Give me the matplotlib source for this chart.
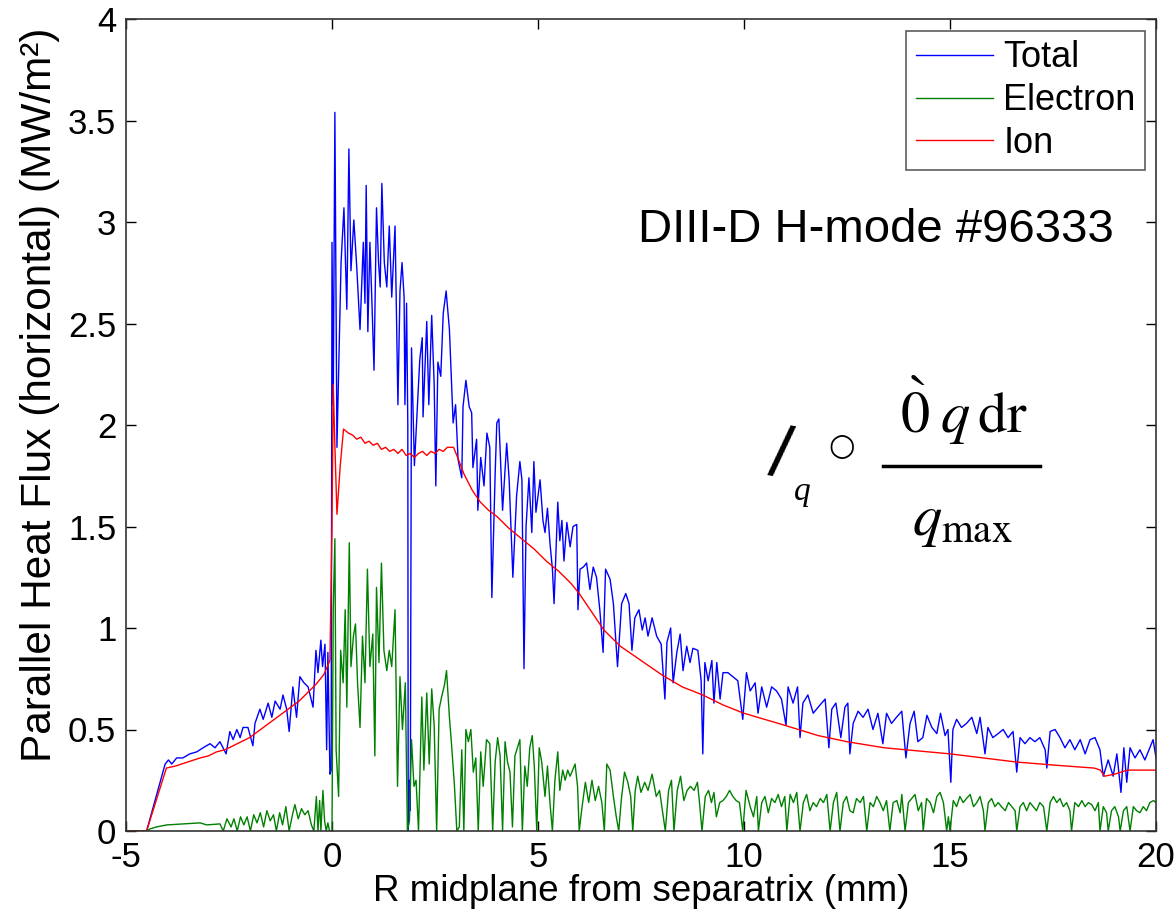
import matplotlib
matplotlib.use("Agg")
import matplotlib.pyplot as plt
from matplotlib.lines import Line2D

# ---------------- data ----------------
total_x = [
    -5.00, -4.50, -4.05, -3.97, -3.89, -3.77, -3.62, -3.45, -3.28, -3.13,
    -2.96, -2.84, -2.72, -2.57, -2.48, -2.40, -2.31, -2.23, -2.16, -2.04,
    -1.92, -1.87, -1.75, -1.67, -1.55, -1.46, -1.38, -1.26, -1.19, -1.10,
    -1.04, -0.95, -0.86, -0.78, -0.68, -0.58, -0.46, -0.39, -0.34, -0.27,
    -0.23, -0.17, -0.13, -0.10, -0.05, -0.02,
    0.00, 0.03, 0.07, 0.12, 0.22, 0.29, 0.36, 0.41, 0.46, 0.53,
    0.60, 0.68, 0.76, 0.80, 0.83, 0.87, 0.92, 0.97, 1.02, 1.08,
    1.13, 1.17, 1.21, 1.27, 1.33, 1.39, 1.45, 1.53, 1.60, 1.65,
    1.70, 1.75, 1.77, 1.81, 1.84, 1.85, 1.88, 1.90,
    1.93, 2.00, 2.13, 2.19, 2.21, 2.30, 2.35, 2.42, 2.48, 2.52,
    2.57, 2.64, 2.70, 2.77, 2.85, 2.90, 2.94, 3.00, 3.06, 3.15,
    3.18, 3.25, 3.33, 3.39, 3.42, 3.51, 3.54, 3.61, 3.69, 3.76,
    3.83, 3.88, 3.96, 4.00, 4.05, 4.14, 4.24, 4.30, 4.39, 4.48,
    4.56, 4.61, 4.66, 4.71, 4.78, 4.85, 4.90, 4.95, 5.05, 5.12,
    5.17, 5.23, 5.29, 5.35, 5.39, 5.48, 5.53, 5.58, 5.63, 5.70,
    5.78, 5.85, 5.94, 5.97, 6.02, 6.10, 6.18, 6.26, 6.34, 6.42,
    6.50, 6.58, 6.64, 6.75, 6.83, 6.93, 7.03, 7.13, 7.21, 7.28,
    7.35, 7.45, 7.53, 7.60, 7.67, 7.77, 7.88, 7.99, 8.08, 8.13,
    8.22, 8.28, 8.37, 8.45, 8.52, 8.61, 8.69, 8.76, 8.88, 8.96,
    9.00, 9.05, 9.13, 9.22, 9.27, 9.34, 9.42, 9.49, 9.61, 9.73,
    9.85, 9.97, 10.06,
    10.15, 10.27, 10.34, 10.43, 10.55, 10.67, 10.79, 10.91, 11.02, 11.07,
    11.19, 11.30, 11.36, 11.43, 11.55, 11.68, 11.80, 11.97, 12.06, 12.13,
    12.23, 12.35, 12.45, 12.52, 12.57, 12.65, 12.77, 12.89, 13.01, 13.13,
    13.25, 13.37, 13.46, 13.58, 13.70, 13.83, 13.93, 14.03, 14.13, 14.22,
    14.34, 14.44, 14.56, 14.68, 14.77, 14.88, 14.95, 15.02, 15.07, 15.16,
    15.28, 15.40, 15.53, 15.65, 15.73, 15.85, 15.92, 16.04, 16.17, 16.29,
    16.41, 16.53, 16.62, 16.70, 16.82, 16.94, 17.06, 17.18, 17.31, 17.35,
    17.43, 17.55, 17.67, 17.79, 17.91, 18.03, 18.16, 18.28, 18.40, 18.52,
    18.64, 18.72, 18.84, 18.96, 19.05, 19.15, 19.22, 19.29, 19.37, 19.49,
    19.61, 19.73, 19.85, 19.93, 20.00,
]
total_y = [
    0.00, 0.00, 0.33, 0.35, 0.33, 0.36, 0.36, 0.38, 0.39, 0.41,
    0.43, 0.41, 0.44, 0.38, 0.49, 0.45, 0.50, 0.46, 0.51, 0.51,
    0.42, 0.53, 0.60, 0.55, 0.63, 0.56, 0.64, 0.60, 0.67, 0.60,
    0.49, 0.71, 0.56, 0.76, 0.73, 0.71, 0.61, 0.89, 0.78, 0.94,
    0.81, 0.92, 0.40, 0.88, 0.28, 0.30,
    2.90, 2.10, 3.54, 1.89, 2.80, 3.07, 2.57, 3.36, 2.76, 3.01,
    2.78, 2.47, 2.90, 2.60, 3.18, 2.46, 2.90, 2.60, 2.27, 3.07,
    2.80, 2.68, 3.19, 2.80, 2.68, 2.98, 2.63, 2.98, 2.10, 2.66,
    2.80, 2.63, 2.10, 2.60, 2.00, 0.00, 0.25, 0.10,
    2.38, 1.80, 2.32, 2.43, 2.04, 2.51, 2.10, 2.54, 2.20, 1.70,
    2.31, 2.24, 2.55, 2.66, 2.47, 2.22, 2.01, 2.10, 1.83, 1.74,
    2.09, 2.22, 2.09, 2.06, 1.79, 1.93, 1.58, 1.84, 1.70, 1.96,
    1.89, 1.15, 1.76, 2.01, 2.03, 1.58, 1.91, 1.73, 1.25, 1.65,
    1.82, 1.73, 0.80, 1.50, 1.74, 1.47, 1.82, 1.57, 1.73, 1.53,
    1.47, 1.59, 1.42, 1.29, 1.12, 1.62, 1.43, 1.53, 1.33, 1.52,
    1.40, 1.50, 1.51, 1.09, 1.29, 1.30, 1.32, 1.19, 1.30, 1.25,
    1.09, 0.88, 1.29, 1.24, 1.12, 0.81, 1.12, 1.17, 1.12, 0.89,
    1.05, 1.09, 0.99, 1.05, 0.96, 1.05, 0.96, 0.92, 0.65, 0.93,
    1.00, 0.73, 0.88, 0.97, 0.79, 0.91, 0.83, 0.90, 0.89, 0.74,
    0.38, 0.83, 0.74, 0.84, 0.63, 0.83, 0.65, 0.78, 0.78, 0.76,
    0.74, 0.55, 0.78,
    0.69, 0.73, 0.58, 0.71, 0.61, 0.71, 0.69, 0.65, 0.52, 0.71,
    0.63, 0.71, 0.46, 0.63, 0.67, 0.58, 0.61, 0.65, 0.41, 0.60,
    0.63, 0.46, 0.61, 0.63, 0.38, 0.53, 0.59, 0.56, 0.60, 0.50,
    0.58, 0.43, 0.58, 0.53, 0.56, 0.59, 0.36, 0.53, 0.59, 0.44,
    0.46, 0.57, 0.51, 0.48, 0.58, 0.47, 0.50, 0.24, 0.50, 0.55,
    0.51, 0.53, 0.56, 0.48, 0.56, 0.38, 0.51, 0.46, 0.48, 0.50,
    0.46, 0.49, 0.29, 0.46, 0.43, 0.46, 0.44, 0.46, 0.40, 0.31,
    0.49, 0.50, 0.46, 0.41, 0.45, 0.40, 0.45, 0.38, 0.45, 0.46,
    0.40, 0.27, 0.35, 0.27, 0.38, 0.19, 0.41, 0.24, 0.41, 0.36,
    0.40, 0.35, 0.41, 0.45, 0.36,
]

electron_x = [
    -5.00, -4.50, -4.42, -4.26, -4.01, -3.62, -3.20, -3.04, -2.72, -2.64,
    -2.55, -2.45, -2.38, -2.30, -2.22, -2.14, -2.06, -1.98, -1.90, -1.82,
    -1.74, -1.66, -1.58, -1.50, -1.42, -1.35, -1.27, -1.20, -1.12, -1.04,
    -0.96, -0.90, -0.82, -0.74, -0.66, -0.58, -0.50, -0.44, -0.38, -0.34,
    -0.30, -0.27, -0.22, -0.18, -0.14, -0.10, -0.06, -0.02,
    0.00, 0.03, 0.07, 0.10, 0.16, 0.21, 0.27, 0.32, 0.36, 0.42,
    0.46, 0.52, 0.57, 0.62, 0.68, 0.74, 0.80, 0.86, 0.92, 0.99,
    1.04, 1.08, 1.14, 1.20, 1.26, 1.33, 1.39, 1.45, 1.53, 1.59,
    1.65, 1.71, 1.78, 1.83,
    1.88, 1.93, 1.99, 2.04, 2.10, 2.18, 2.23, 2.30, 2.36, 2.42,
    2.48, 2.54, 2.60, 2.66, 2.73, 2.78, 2.85, 2.90, 2.97, 3.03,
    3.09, 3.15, 3.20, 3.25, 3.31, 3.37, 3.43, 3.49, 3.55, 3.61,
    3.67, 3.75, 3.83, 3.90, 3.96, 4.02, 4.08, 4.14, 4.20, 4.26,
    4.32, 4.38, 4.44, 4.50, 4.56, 4.62, 4.68, 4.74, 4.80, 4.86,
    4.91, 4.97, 5.03, 5.09,
    5.17, 5.23, 5.29, 5.35, 5.41, 5.48, 5.53, 5.60, 5.66, 5.72,
    5.78, 5.84, 5.90, 5.96, 6.00, 6.07, 6.15, 6.23, 6.31, 6.39,
    6.47, 6.55, 6.61, 6.67, 6.75, 6.83, 6.90, 6.96, 7.02, 7.10,
    7.18, 7.25, 7.30, 7.36, 7.42, 7.50, 7.59, 7.67, 7.77, 7.87,
    7.95, 8.04, 8.09, 8.17, 8.24, 8.30, 8.38, 8.46, 8.54, 8.62,
    8.70, 8.79, 8.87, 8.92, 8.98, 9.06, 9.14, 9.21, 9.27, 9.33,
    9.41, 9.49, 9.57, 9.65, 9.73, 9.81, 9.89, 9.97, 10.05,
    10.15, 10.23, 10.31, 10.35, 10.43, 10.51, 10.59, 10.67, 10.75, 10.83,
    10.91, 10.99, 11.04, 11.12, 11.20, 11.28, 11.36, 11.44, 11.52, 11.60,
    11.68, 11.76, 11.85, 11.93, 12.01, 12.09, 12.17, 12.25, 12.33, 12.41,
    12.49, 12.57, 12.65, 12.73, 12.82, 12.90, 12.98, 13.06, 13.14, 13.22,
    13.30, 13.38, 13.46, 13.54, 13.62, 13.71, 13.79, 13.83, 13.91, 13.99,
    14.07, 14.15, 14.23, 14.31, 14.35, 14.43, 14.52, 14.60, 14.68, 14.76,
    14.84, 14.92, 14.96, 15.00, 15.08, 15.16, 15.24, 15.32, 15.40, 15.49,
    15.57, 15.65, 15.73, 15.81, 15.85, 15.93, 16.01, 16.09, 16.17, 16.25,
    16.34, 16.42, 16.50, 16.58, 16.62, 16.70, 16.78, 16.86, 16.94, 17.02,
    17.10, 17.18, 17.27, 17.35, 17.43, 17.51, 17.59, 17.67, 17.75, 17.83,
    17.91, 17.95, 18.03, 18.12, 18.20, 18.28, 18.36, 18.44, 18.52, 18.60,
    18.64, 18.72, 18.80, 18.84, 18.92, 19.00, 19.09, 19.13, 19.21, 19.29,
    19.37, 19.45, 19.53, 19.61, 19.69, 19.77, 19.85, 19.94, 20.00,
]
electron_y = [
    0.00, 0.00, 0.01, 0.02, 0.03, 0.035, 0.04, 0.03, 0.035, 0.00,
    0.06, 0.02, 0.06, 0.00, 0.07, 0.03, 0.07, 0.00, 0.08, 0.04,
    0.09, 0.02, 0.10, 0.05, 0.08, 0.00, 0.09, 0.03, 0.12, 0.00,
    0.08, 0.13, 0.06, 0.11, 0.08, 0.10, 0.03, 0.00, 0.17, 0.00,
    0.15, 0.00, 0.20, 0.05, 0.00, 0.04, 0.00, 0.00,
    0.00, 1.09, 1.44, 0.40, 0.17, 0.89, 0.73, 1.09, 0.61, 1.42,
    0.81, 0.96, 1.02, 0.73, 0.51, 0.96, 0.73, 1.29, 0.81, 0.97,
    0.37, 1.20, 0.83, 1.32, 0.89, 0.79, 0.89, 0.81, 1.09, 0.22,
    0.76, 0.50, 0.73, 0.00,
    0.05, 0.45, 0.22, 0.25, 0.00, 0.66, 0.30, 0.68, 0.33, 0.70,
    0.52, 0.00, 0.60, 0.66, 0.72, 0.79, 0.56, 0.43, 0.23, 0.00,
    0.02, 0.40, 0.00, 0.50, 0.44, 0.50, 0.29, 0.36, 0.00, 0.39,
    0.22, 0.45, 0.43, 0.00, 0.34, 0.46, 0.37, 0.00, 0.44, 0.34,
    0.29, 0.02, 0.37, 0.41, 0.45, 0.00, 0.32, 0.22, 0.41, 0.47,
    0.32, 0.00, 0.41, 0.34,
    0.17, 0.32, 0.14, 0.00, 0.25, 0.39, 0.20, 0.30, 0.25, 0.30,
    0.27, 0.30, 0.33, 0.22, 0.00, 0.12, 0.24, 0.14, 0.25, 0.15,
    0.22, 0.14, 0.00, 0.33, 0.30, 0.17, 0.07, 0.00, 0.15, 0.29,
    0.24, 0.17, 0.00, 0.20, 0.27, 0.19, 0.24, 0.20, 0.28, 0.17,
    0.20, 0.07, 0.00, 0.20, 0.25, 0.00, 0.20, 0.27, 0.15, 0.20,
    0.22, 0.20, 0.24, 0.14, 0.00, 0.17, 0.20, 0.14, 0.19, 0.07,
    0.14, 0.15, 0.17, 0.20, 0.17, 0.15, 0.14, 0.00, 0.20,
    0.12, 0.07, 0.17, 0.00, 0.14, 0.17, 0.09, 0.16, 0.14, 0.18,
    0.12, 0.17, 0.00, 0.18, 0.14, 0.19, 0.00, 0.14, 0.18, 0.10,
    0.14, 0.12, 0.16, 0.14, 0.18, 0.00, 0.14, 0.19, 0.00, 0.14,
    0.17, 0.10, 0.09, 0.16, 0.14, 0.17, 0.00, 0.14, 0.12, 0.17,
    0.14, 0.10, 0.15, 0.00, 0.14, 0.15, 0.09, 0.18, 0.00, 0.14,
    0.16, 0.18, 0.10, 0.14, 0.00, 0.16, 0.14, 0.09, 0.17, 0.19,
    0.14, 0.00, 0.07, 0.00, 0.15, 0.12, 0.17, 0.14, 0.16, 0.18,
    0.12, 0.14, 0.17, 0.10, 0.00, 0.14, 0.16, 0.12, 0.14, 0.12,
    0.10, 0.14, 0.12, 0.10, 0.00, 0.12, 0.14, 0.10, 0.14, 0.12,
    0.10, 0.14, 0.12, 0.00, 0.14, 0.17, 0.14, 0.16, 0.12, 0.14,
    0.10, 0.00, 0.14, 0.12, 0.15, 0.12, 0.14, 0.13, 0.10, 0.14,
    0.00, 0.12, 0.09, 0.00, 0.10, 0.12, 0.07, 0.00, 0.10, 0.12,
    0.00, 0.12, 0.10, 0.09, 0.12, 0.10, 0.14, 0.15, 0.14,
]

ion_x = [
    -5.00, -4.50, -4.02, -3.80, -3.50, -3.20, -3.00, -2.80, -2.60, -2.40,
    -2.20, -2.00, -1.80, -1.60, -1.40, -1.20, -1.00, -0.80, -0.60, -0.40,
    -0.20, -0.05, 0.00, 0.03, 0.07, 0.12, 0.20, 0.28, 0.40, 0.50,
    0.60, 0.70, 0.80, 0.90, 1.00, 1.10, 1.20, 1.30, 1.40, 1.50,
    1.60, 1.70, 1.80, 1.90, 2.00, 2.10, 2.20, 2.30, 2.40, 2.50,
    2.60, 2.70, 2.80, 2.95, 3.05, 3.20, 3.40, 3.60, 3.80, 4.00,
    4.30, 4.60, 4.90, 5.20, 5.50, 5.80, 6.00, 6.30, 6.60, 7.00,
    7.50, 8.00, 8.50, 9.00, 9.50, 10.00, 10.50, 11.00, 11.80, 12.50,
    13.40, 14.20, 15.00, 16.00, 16.60, 17.50, 18.50, 18.65, 18.75, 19.00,
    19.30, 20.00,
]
ion_y = [
    0.00, 0.00, 0.31, 0.32, 0.34, 0.36, 0.37, 0.39, 0.40, 0.42,
    0.44, 0.46, 0.49, 0.52, 0.55, 0.58, 0.61, 0.64, 0.68, 0.72,
    0.77, 0.84, 1.50, 2.20, 1.90, 1.56, 1.80, 1.98, 1.96, 1.95,
    1.93, 1.94, 1.91, 1.92, 1.90, 1.91, 1.88, 1.89, 1.87, 1.88,
    1.86, 1.88, 1.85, 1.86, 1.84, 1.86, 1.87, 1.85, 1.87, 1.86,
    1.88, 1.87, 1.89, 1.89, 1.84, 1.76, 1.68, 1.62, 1.58, 1.55,
    1.49, 1.44, 1.39, 1.33, 1.28, 1.22, 1.17, 1.08, 0.99, 0.91,
    0.84, 0.77, 0.71, 0.67, 0.62, 0.58, 0.55, 0.52, 0.47, 0.44,
    0.41, 0.395, 0.38, 0.355, 0.34, 0.325, 0.31, 0.30, 0.27, 0.28,
    0.30, 0.30,
]

series_labels = ["Total", "Electron", "Ion"]
x_ticks = [-5, 0, 5, 10, 15, 20]
x_tick_labels = ["-5", "0", "5", "10", "15", "20"]
y_ticks = [0, 0.5, 1, 1.5, 2, 2.5, 3, 3.5, 4]
y_tick_labels = ["0", "0.5", "1", "1.5", "2", "2.5", "3", "3.5", "4"]

assert len(total_x) == len(total_y)
assert len(electron_x) == len(electron_y)
assert len(ion_x) == len(ion_y)

# ---------------- figure ----------------
plt.rcParams["font.family"] = ["Liberation Sans", "DejaVu Sans"]
W, H = 1176, 916
fig = plt.figure(figsize=(W / 100, H / 100), dpi=100)
ax = fig.add_axes([126 / W, 1 - 831 / H, 1030 / W, 812 / H])

lw = 1.0
ax.plot(total_x, total_y, color=(0, 0, 1), lw=lw, label=series_labels[0])
ax.plot(electron_x, electron_y, color=(0, 0.5, 0), lw=lw, label=series_labels[1])
ax.plot(ion_x, ion_y, color=(1, 0, 0), lw=lw, label=series_labels[2])

ax.set_xlim(-5, 20)
ax.set_ylim(0, 4)
ax.set_xticks(x_ticks)
ax.set_xticklabels(x_tick_labels)
ax.set_yticks(y_ticks)
ax.set_yticklabels(y_tick_labels)
ax.tick_params(direction="in", length=7, width=1, labelsize=25,
               top=True, right=True, pad=7)
for s in ax.spines.values():
    s.set_color("#333333")
    s.set_linewidth(1.2)

ax.set_xlabel("R midplane from separatrix (mm)", fontsize=26.5, labelpad=0)
ax.set_ylabel("Parallel Heat Flux (horizontal) (MW/m\u00b2)", fontsize=30.5)
ax.yaxis.set_label_coords((60 - 126) / 1030, (831 - 395) / 812)

leg = ax.legend(loc="upper right", bbox_to_anchor=(0.989, 0.985),
                fontsize=26, frameon=True, fancybox=False, edgecolor="#333333",
                borderaxespad=0, handlelength=2.15, handletextpad=0.28,
                labelspacing=0.22, borderpad=0.25)
leg.get_frame().set_linewidth(1.2)

ax.text((638 - 126) / 1030, (831 - 230) / 812, "DIII-D H-mode #96333",
        transform=ax.transAxes, fontsize=34, ha="left", va="center")

# garbled formula annotation (as rendered in the original)
def fx(px):
    return px / W

def fy(py):
    return 1 - py / H

serif = ["Liberation Serif", "DejaVu Serif"]
fig.text(fx(780), fy(458), "/", fontsize=52, family=["Liberation Sans"],
         ha="center", va="center", rotation=-10)
fig.text(fx(802), fy(492), "q", fontsize=24, family=serif, style="italic",
         ha="center", va="center")
fig.text(fx(842), fy(446), "\u25cb", fontsize=22, family=["DejaVu Sans"],
         ha="center", va="center")
fig.text(fx(964), fy(410), r"$\grave{0}\;q\,\mathrm{dr}$", fontsize=42,
         math_fontfamily="stix", ha="center", va="center")
fig.add_artist(Line2D([fx(883), fx(1040)], [fy(466), fy(466)],
                      transform=fig.transFigure, color="black", lw=2.5))
fig.text(fx(962), fy(522), r"$q_{\mathrm{max}}$", fontsize=42,
         math_fontfamily="stix", ha="center", va="center")

fig.savefig("out.png", dpi=100)
